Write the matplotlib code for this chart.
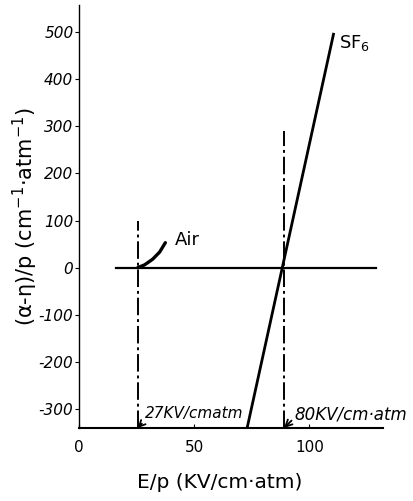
import matplotlib
matplotlib.use("Agg")
import matplotlib.pyplot as plt

# Data
air_x = [25.5, 28.5, 32.0, 35.0, 37.5]
air_y = [0, 6, 18, 33, 53]
sf6_x = [73.0, 110.5]
sf6_y = [-340, 495]
zero_x = [16, 129]
zero_y = [0, 0]
air_limit_x = 25.5
air_limit_top = 100
sf6_limit_x = 89.0
sf6_limit_top = 290
yticks = [-300, -200, -100, 0, 100, 200, 300, 400, 500]
xticks = [0, 50, 100]

W, H = 413, 501
fig = plt.figure(figsize=(W / 100, H / 100), dpi=100)
ax = fig.add_axes([79 / W, 1 - 428 / H, (383 - 79) / W, (428 - 5) / H])
ax.set_xlim(0, 132)
ax.set_ylim(-340, 557)

for s in ["top", "right"]:
    ax.spines[s].set_visible(False)
ax.spines["left"].set_linewidth(1.0)
ax.spines["bottom"].set_linewidth(1.5)

ax.plot(zero_x, zero_y, color="black", lw=1.6)
ax.plot(sf6_x, sf6_y, color="black", lw=2.0)
ax.plot(air_x, air_y, color="black", lw=2.4, solid_capstyle="round")
ax.plot([air_limit_x, air_limit_x], [-340, air_limit_top], color="black",
        lw=1.4, linestyle=(0, (9, 2, 1.5, 2)))
ax.plot([sf6_limit_x, sf6_limit_x], [-340, sf6_limit_top], color="black",
        lw=1.4, linestyle=(0, (9, 2, 1.5, 2)))

ax.set_yticks(yticks)
ax.set_yticklabels([str(v) for v in yticks], fontsize=11, fontstyle="italic")
ax.set_xticks(xticks)
ax.set_xticklabels([str(v) for v in xticks], fontsize=11)
ax.tick_params(axis="y", direction="out", length=3, pad=1)
ax.tick_params(axis="x", direction="in", length=3, pad=9)

ax.text(41.5, 48, "Air", fontsize=13)
ax.text(113, 465, "SF$_6$", fontsize=13)

ax.annotate("27KV/cmatm", xy=(air_limit_x, -340), xytext=(28.5, -325),
            fontsize=11, fontstyle="italic", va="bottom",
            arrowprops=dict(arrowstyle="->", color="black", lw=1.3,
                            shrinkA=0, shrinkB=0, relpos=(0.02, 0.15)))
ax.annotate("80KV/cm·atm", xy=(sf6_limit_x, -340), xytext=(93.5, -330),
            fontsize=12, fontstyle="italic", va="bottom",
            arrowprops=dict(arrowstyle="->", color="black", lw=1.3,
                            shrinkA=0, shrinkB=0, relpos=(0.0, 0.3)))

fig.text(25 / W, 1 - 217 / H, "(α-η)/p (cm$^{-1}$·atm$^{-1}$)", rotation=90,
         ha="center", va="center", fontsize=15)
fig.text(220 / W, 1 - 483 / H, "E/p (KV/cm·atm)", ha="center", va="center",
         fontsize=14.5)

fig.savefig("out.png", dpi=100)
